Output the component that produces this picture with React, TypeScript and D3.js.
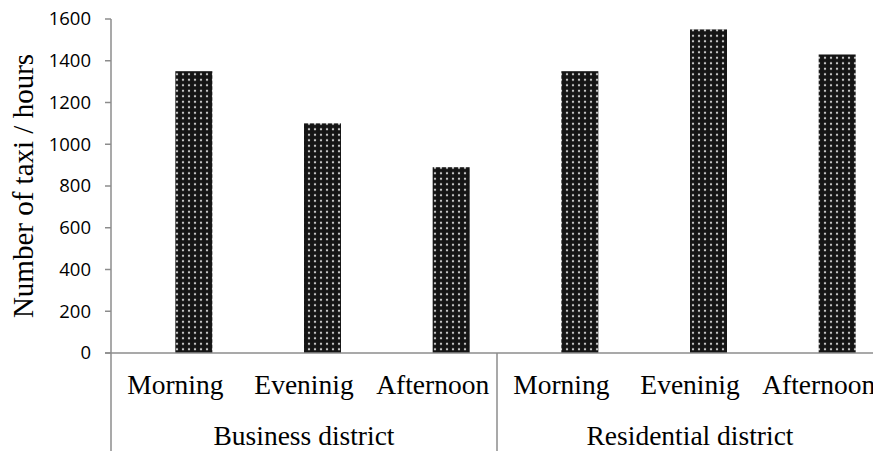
import React, { useEffect, useRef } from "react";
import * as d3 from "d3";

const groups = ["Business district", "Residential district"];
const periods = ["Morning", "Eveninig", "Afternoon"];
const values = [1350, 1100, 890, 1350, 1550, 1430];
const yTicks = [0, 200, 400, 600, 800, 1000, 1200, 1400, 1600];

const BarChart = () => {
  const ref = useRef<SVGSVGElement>(null);

  useEffect(() => {
    const width = 873;
    const height = 451;
    const svg = d3.select(ref.current);
    svg.selectAll("*").remove();

    const cats = groups.flatMap((g) => periods.map((p) => `${g}|${p}`));
    const x = d3.scaleBand().domain(cats).range([111, 883]);
    const y = d3.scaleLinear().domain([0, 1600]).range([353, 19]);
    const axisColor = "#8c8c8c";

    // dotted fill used by the bars
    const defs = svg.append("defs");
    const pat = defs
      .append("pattern")
      .attr("id", "dots")
      .attr("patternUnits", "userSpaceOnUse")
      .attr("width", 6)
      .attr("height", 5.5);
    pat.append("rect").attr("width", 6).attr("height", 5.5).attr("fill", "#151515");
    pat.append("circle").attr("cx", 3).attr("cy", 2.75).attr("r", 1.2).attr("fill", "#c8c8c8");

    // bars
    const barW = 37;
    svg
      .append("g")
      .selectAll("rect")
      .data(values)
      .enter()
      .append("rect")
      .attr("x", (d, i) => x(cats[i])! + x.bandwidth() / 2)
      .attr("y", (d) => y(d))
      .attr("width", barW)
      .attr("height", (d) => y(0) - y(d))
      .attr("fill", "url(#dots)");

    // y axis
    const yAxis = svg.append("g");
    yAxis
      .append("line")
      .attr("x1", 111)
      .attr("x2", 111)
      .attr("y1", y(1600))
      .attr("y2", y(0))
      .attr("stroke", axisColor)
      .attr("stroke-width", 1.5);
    const ticks = yAxis.selectAll("g").data(yTicks).enter().append("g");
    ticks
      .append("line")
      .attr("x1", 105)
      .attr("x2", 111)
      .attr("y1", (d) => y(d))
      .attr("y2", (d) => y(d))
      .attr("stroke", axisColor)
      .attr("stroke-width", 1.5);
    ticks
      .append("text")
      .attr("x", 91)
      .attr("y", (d) => y(d))
      .attr("dy", "0.35em")
      .attr("text-anchor", "end")
      .attr("font-family", "'Open Sans', sans-serif")
      .attr("font-size", 18.5)
      .attr("fill", "#000")
      .text((d) => d);

    // x axis line and group dividers
    svg
      .append("line")
      .attr("x1", 105)
      .attr("x2", width)
      .attr("y1", y(0))
      .attr("y2", y(0))
      .attr("stroke", axisColor)
      .attr("stroke-width", 1.5);
    groups.forEach((g) => {
      const x0 = x(`${g}|${periods[0]}`)!;
      svg
        .append("line")
        .attr("x1", x0)
        .attr("x2", x0)
        .attr("y1", y(0))
        .attr("y2", height)
        .attr("stroke", axisColor)
        .attr("stroke-width", 1.5);
      const xEnd = x(`${g}|${periods[periods.length - 1]}`)! + x.bandwidth();
      svg
        .append("text")
        .attr("x", (x0 + xEnd) / 2)
        .attr("y", 445)
        .attr("text-anchor", "middle")
        .attr("font-family", "'Liberation Serif', serif")
        .attr("font-size", 27.5)
        .text(g);
    });

    // category labels (the last one runs past the right edge, as in the original)
    svg
      .append("g")
      .selectAll("text")
      .data(cats)
      .enter()
      .append("text")
      .attr("x", (d) => x(d)! + x.bandwidth() / 2)
      .attr("y", 394)
      .attr("text-anchor", "middle")
      .attr("font-family", "'Liberation Serif', serif")
      .attr("font-size", 27.5)
      .text((d) => d.split("|")[1]);

    // y title
    svg
      .append("text")
      .attr("transform", `translate(33,186) rotate(-90)`)
      .attr("text-anchor", "middle")
      .attr("font-family", "'Liberation Serif', serif")
      .attr("font-size", 29)
      .text("Number of taxi / hours");
  }, []);

  return (
    <svg
      ref={ref}
      width={873}
      height={451}
      style={{ position: "fixed", top: 0, left: 0, background: "#fff" }}
    ></svg>
  );
};

export default function App() {
  return <BarChart />;
}
